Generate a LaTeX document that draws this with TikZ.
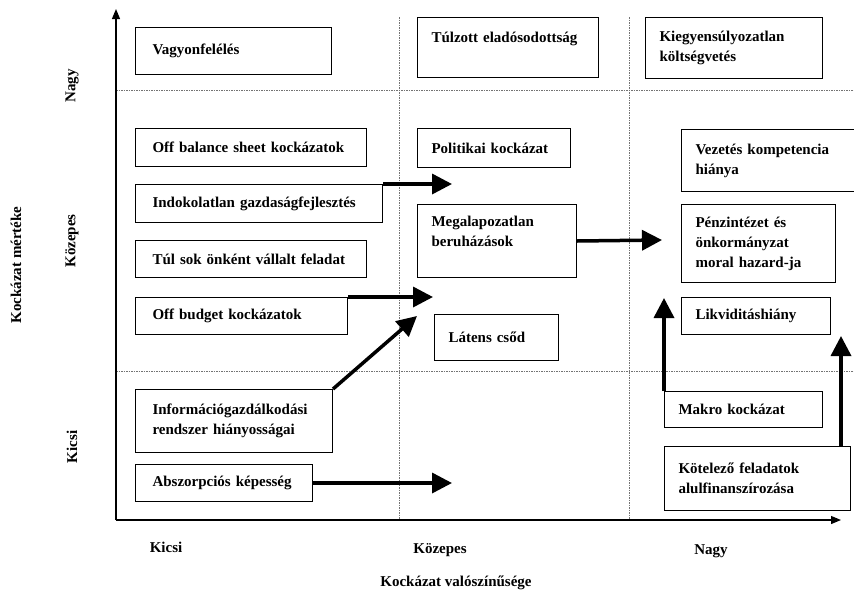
\documentclass[tikz,border=0pt]{standalone}
\usepackage{fontspec}
\setmainfont{Liberation Serif}
\usetikzlibrary{arrows.meta}

\tikzset{
  box/.style={draw, line width=1pt, anchor=north west, align=left,
    inner xsep=14pt, font=\fontsize{15}{20}\selectfont\bfseries},
  leftcol/.style={inner xsep=17pt},
  lbl/.style={font=\fontsize{15}{18}\selectfont\bfseries},
  gridline/.style={black!55, line width=0.6pt, dash pattern=on 1.5pt off 1pt},
  axisline/.style={line width=1.2pt, -{Triangle[length=10pt,width=8pt]}},
  riskarrow/.style={line width=3.5pt, -{Triangle[length=20pt,width=20pt]}}
}

\begin{document}
\begin{tikzpicture}[x=1pt,y=-1pt]
  \useasboundingbox (0,0) rectangle (854,592);

  %% Grid
  \draw[gridline] (399,17) -- (399,520);
  \draw[gridline] (629,17) -- (629,520);
  \draw[gridline] (116,90) -- (854,90);
  \draw[gridline] (116,371) -- (854,371);

  %% Axes
  \coordinate (origin) at (116,520);
  \coordinate (ytip) at (116,9);
  \coordinate (xtip) at (841,520);
  \draw[axisline] (origin) -- (ytip);
  \draw[axisline] (origin) -- (xtip);

  \node[lbl, rotate=90] (ylabel) at (16,265) {Kockázat mértéke};
  \node[lbl, rotate=90] (ynagy) at (72,86) {Nagy};
  \node[lbl, rotate=90] (ykozepes) at (72,241) {Közepes};
  \node[lbl, rotate=90] (ykicsi) at (72,447) {Kicsi};

  \node[lbl] (xkicsi) at (166,547) {Kicsi};
  \node[lbl] (xkozepes) at (440,550) {Közepes};
  \node[lbl] (xnagy) at (711,551) {Nagy};
  \node[lbl] (xlabel) at (456,583) {Kockázat valószínűsége};

  %% Left column
  \node[box, leftcol, text width=162pt, minimum height=47pt] (vagyon) at (135,27)
    {Vagyonfelélés};
  \node[box, leftcol, text width=197pt, minimum height=38pt] (offbal) at (135,128)
    {Off balance sheet kockázatok};
  \node[box, leftcol, text width=213pt, minimum height=38pt] (indok) at (135,184)
    {Indokolatlan gazdaságfejlesztés};
  \node[box, leftcol, text width=197pt, minimum height=37pt] (tulsok) at (135,240)
    {Túl sok önként vállalt feladat};
  \node[box, leftcol, text width=178pt, minimum height=37pt] (offbud) at (135,297)
    {Off budget kockázatok};
  \node[box, leftcol, text width=163pt, minimum height=63pt] (info) at (135,389)
    {Információgazdálkodási\\rendszer hiányosságai};
  \node[box, leftcol, text width=143pt, minimum height=37pt] (absz) at (135,464)
    {Abszorpciós képesség};

  %% Middle column
  \node[box, text width=153pt, minimum height=60pt] (tulzott) at (417,17)
    {Túlzott eladósodottság\\\mbox{}};
  \node[box, text width=125pt, minimum height=39pt] (polit) at (417,128)
    {Politikai kockázat};
  \node[box, text width=131pt, minimum height=73pt] (megal) at (417,204)
    {Megalapozatlan\\beruházások\\\mbox{}};
  \node[box, text width=96pt, minimum height=46pt] (latens) at (434,314)
    {Látens csőd};

  %% Right column
  \node[box, text width=149pt, minimum height=61pt] (kiegy) at (645,17)
    {Kiegyensúlyozatlan\\költségvetés};
  \node[box, text width=147pt, minimum height=62pt] (vezetes) at (681,129)
    {Vezetés kompetencia\\hiánya};
  \node[box, text width=126pt, minimum height=78pt] (penz) at (681,204)
    {Pénzintézet és\\önkormányzat\\moral hazard-ja};
  \node[box, text width=121pt, minimum height=37pt] (likv) at (681,297)
    {Likviditáshiány};
  \node[box, text width=130pt, minimum height=36pt] (makro) at (664,391)
    {Makro kockázat};
  \node[box, text width=158pt, minimum height=64pt] (kotelezo) at (664,446)
    {Kötelező feladatok\\alulfinanszírozása};

  %% Risk shifts
  \coordinate (t1) at (452,184);
  \coordinate (t2) at (433,297);
  \coordinate (t3) at (417,316);
  \coordinate (t4) at (452,483);
  \coordinate (t5) at (662,240);
  \coordinate (t6) at (664,298);
  \coordinate (t7) at (841,336);
  \draw[riskarrow] (indok.north east) -- (t1);
  \draw[riskarrow] (offbud.north east) -- (t2);
  \draw[riskarrow] (info.north east) -- (t3);
  \draw[riskarrow] (absz.east) -- (t4);
  \draw[riskarrow] (megal.east) -- (t5);
  \draw[riskarrow] (makro.north west) -- (t6);
  \draw[riskarrow] (kotelezo.north -| t7) -- (t7);

\end{tikzpicture}
\end{document}
